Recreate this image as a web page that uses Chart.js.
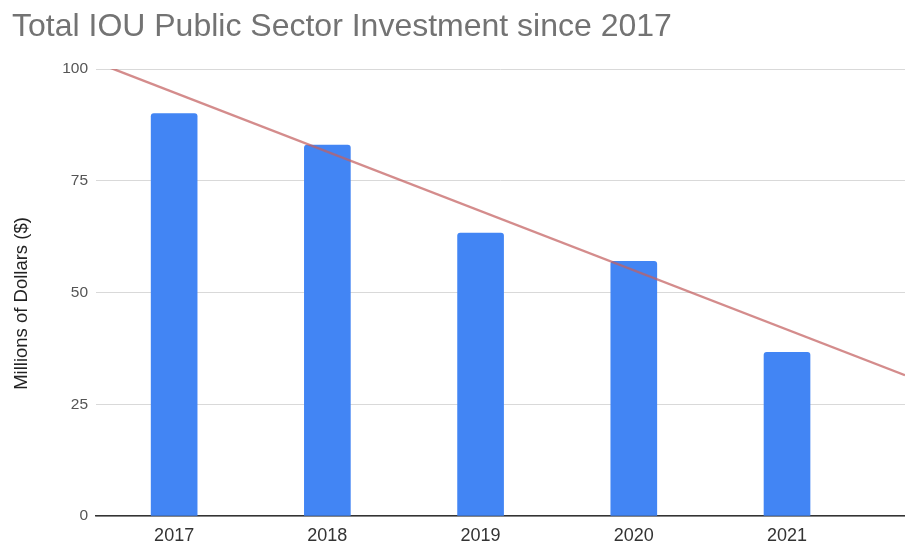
<!DOCTYPE html>
<html>
<head>
<meta charset="utf-8">
<title>Total IOU Public Sector Investment since 2017</title>
<script src="https://cdn.jsdelivr.net/npm/chart.js@4.4.1/dist/chart.umd.min.js"></script>
<style>
  html, body { margin: 0; padding: 0; background: #ffffff; overflow: hidden; }
  #wrap { width: 905px; height: 546px; position: relative; }
</style>
</head>
<body>
<div id="wrap"><canvas id="chart" width="905" height="546"></canvas></div>
<script>
// Years on the horizontal axis
const categories = ['2017', '2018', '2019', '2020', '2021'];
// Total investment per year, millions of dollars
const investment = [90, 83, 63.3, 57, 36.6];
// Linear trend: value at the left and right edges of the plot
const trendEnds = [101.5, 31.5];
// Vertical axis ticks
const yTicks = [0, 25, 50, 75, 100];

// Categories sit at integer x positions; the plot runs a little past the last one
const X_MIN = -0.51;
const X_MAX = 4.77;

const barData = categories.map((c, i) => ({ x: i, y: investment[i] }));
const trendData = [
  { x: X_MIN, y: trendEnds[0] },
  { x: X_MAX, y: trendEnds[1] }
];

const FONT = '"Liberation Sans", Arial, Helvetica, sans-serif';
const Y_TITLE = 'Millions of Dollars ($)';

// Vertical axis title, drawn a little below the plot's middle
const yTitlePlugin = {
  id: 'yTitle',
  afterDraw(chart) {
    const { ctx, chartArea } = chart;
    const cy = (chartArea.top + chartArea.bottom) / 2 + 11;
    ctx.save();
    ctx.translate(21.5, cy);
    ctx.rotate(-Math.PI / 2);
    ctx.font = '18.5px ' + FONT;
    ctx.fillStyle = '#222222';
    ctx.textAlign = 'center';
    ctx.textBaseline = 'middle';
    ctx.fillText(Y_TITLE, 0, 0);
    ctx.restore();
  }
};

new Chart(document.getElementById('chart'), {
  type: 'bar',
  data: {
    datasets: [
      {
        type: 'line',
        label: 'Trend',
        data: trendData,
        borderColor: 'rgba(196, 96, 96, 0.72)',
        borderWidth: 2.4,
        pointRadius: 0,
        fill: false,
        tension: 0,
        order: 0
      },
      {
        type: 'bar',
        label: 'Investment',
        data: barData,
        backgroundColor: '#4285F4',
        borderWidth: 0,
        borderRadius: 3,
        barThickness: 46,
        order: 1
      }
    ]
  },
  options: {
    responsive: false,
    animation: false,
    layout: { padding: { left: 12, right: 0, top: 0, bottom: 0 } },
    plugins: {
      legend: { display: false },
      tooltip: { enabled: false },
      title: {
        display: true,
        text: 'Total IOU Public Sector Investment since 2017',
        align: 'start',
        color: '#737373',
        font: { family: FONT, size: 32, weight: 'normal' },
        padding: { top: 8, bottom: 22.6 }
      }
    },
    scales: {
      x: {
        type: 'linear',
        min: X_MIN,
        max: X_MAX,
        offset: false,
        grid: { display: false, drawTicks: false },
        border: { display: true, color: '#333333', width: 1.5 },
        ticks: {
          stepSize: 1,
          includeBounds: false,
          autoSkip: false,
          maxRotation: 0,
          color: '#333333',
          padding: 9,
          font: { family: FONT, size: 18 },
          callback: (v) => (Number.isInteger(v) && categories[v] !== undefined) ? categories[v] : ''
        },
        afterFit: (s) => { s.height = 30; }
      },
      y: {
        min: 0,
        max: 100,
        grid: {
          color: '#d9d9d9',
          lineWidth: 1,
          drawTicks: false
        },
        border: { display: false },
        afterBuildTicks: (s) => { s.ticks = yTicks.map(v => ({ value: v })); },
        ticks: {
          color: '#555555',
          padding: 8,
          font: { family: FONT, size: 15.5 }
        },
        title: { display: false },
        afterFit: (s) => { s.width = 84; }
      }
    }
  },
  plugins: [yTitlePlugin]
});
</script>
</body>
</html>
